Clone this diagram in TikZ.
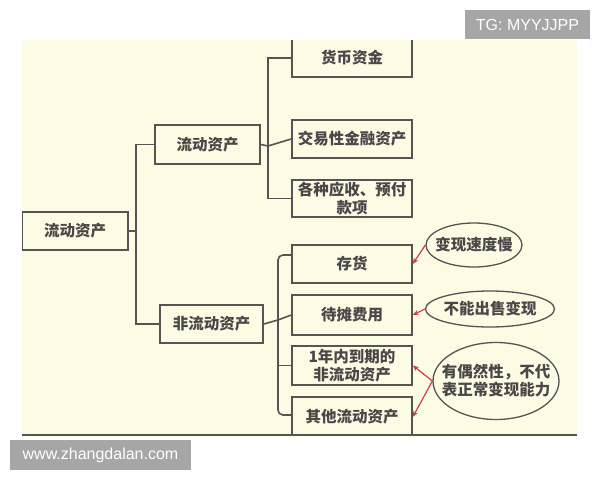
\documentclass[tikz,border=0pt]{standalone}
\usepackage{fontspec}
\setmainfont{Liberation Sans}
\newfontfamily\cjk{Noto Sans CJK SC}
\usetikzlibrary{shapes.geometric,arrows.meta}
\definecolor{cream}{HTML}{FCFBE4}
\definecolor{linegray}{HTML}{555555}
\definecolor{inkgray}{HTML}{484848}
\definecolor{arrowred}{HTML}{C8404F}
\definecolor{markgray}{HTML}{A6A6A6}

\begin{document}
\begin{tikzpicture}[x=1pt,y=-1pt,
    box/.style={draw=linegray,fill=cream,line width=1.6pt,minimum height=38pt,
      inner sep=0pt,align=center,text=inkgray,font=\cjk\bfseries\fontsize{15.5}{18}\selectfont},
    leaf/.style={box,minimum width=120pt},
    note/.style={ellipse,draw=linegray,line width=1.3pt,inner ysep=0pt,inner xsep=-12pt,
      align=center,text=inkgray,font=\cjk\bfseries\fontsize{15.5}{18}\selectfont},
    conn/.style={linegray,line width=1.6pt},
    hint/.style={arrowred,line width=1.2pt,-{Stealth[length=6pt,width=5pt]}},
    wmark/.style={fill=markgray,text=white,inner sep=0pt,font=\fontsize{16}{18}\selectfont}]

  \useasboundingbox (0,0) rectangle (600,480);
  \fill[cream] (22,40) rectangle (577,437);

  \begin{scope}
    \clip (22,40) rectangle (577,434);

    \node[box,minimum width=106pt] (root) at (75,231) {流动资产};
    \node[box,minimum width=105pt,minimum height=39pt] (liu) at (207.5,144.5) {流动资产};
    \node[box,minimum width=103pt] (fei) at (211.5,324) {非流动资产};

    \node[leaf] (huobi) at (352,58) {货币资金};
    \node[leaf] (jiaoyi) at (352,139) {交易性金融资产};
    \node[leaf,minimum height=37pt] (gezhong) at (352,198.5) {各种应收、预付\\款项};

    \node[leaf] (cunhuo) at (352,264) {存货};
    \node[leaf,minimum height=40pt] (daitan) at (352,315) {待摊费用};
    \node[leaf,minimum height=39pt] (yinian) at (352,365.5) {1年内到期的\\非流动资产};
    \node[leaf,minimum height=40pt] (qita) at (352,417) {其他流动资产};

    \node[note,minimum width=96pt,minimum height=44pt] (e1) at (474,245) {变现速度慢};
    \node[note,minimum width=129pt,minimum height=36pt] (e2) at (490,309) {不能出售变现};
    \node[note,minimum width=126pt,minimum height=77pt] (e3) at (496,381) {有偶然性，不代\\表正常变现能力};

    \coordinate (b1) at (136,231);
    \coordinate (b2) at (268,146);
    \coordinate (b3) at (278,320);

    \draw[conn] (root.east) -- (b1);
    \draw[conn] (liu.west) -| (b1) |- (fei.west);

    \draw[conn] (liu.east) -- (b2) -- (jiaoyi.west);
    \draw[conn] (huobi.west) -| (b2) |- (gezhong.west);

    \draw[conn] (fei.east) -- (b3) -- (daitan.west);
    \draw[conn,rounded corners=5pt] ([yshift=9pt]cunhuo.west) -| (b3) |- ([yshift=2pt]qita.west);
    \draw[conn] (b3 |- yinian.west) -- (yinian.west);

    \draw[hint] (e1.west) -- (cunhuo.east);
    \draw[hint] (e2.west) -- (daitan.east);
    \draw[hint] (e3.west) -- (yinian.east);
    \draw[hint] (e3.west) -- (qita.east);
  \end{scope}

  \draw[linegray,line width=2.5pt] (22,435) -- (577,435);

  \node[wmark,minimum width=125pt,minimum height=29pt] (tg) at (527.5,24.5) {TG: MYYJJPP};
  \node[wmark,minimum width=181pt,minimum height=30pt] (site) at (100.5,455) {www.zhangdalan.com};

\end{tikzpicture}
\end{document}
